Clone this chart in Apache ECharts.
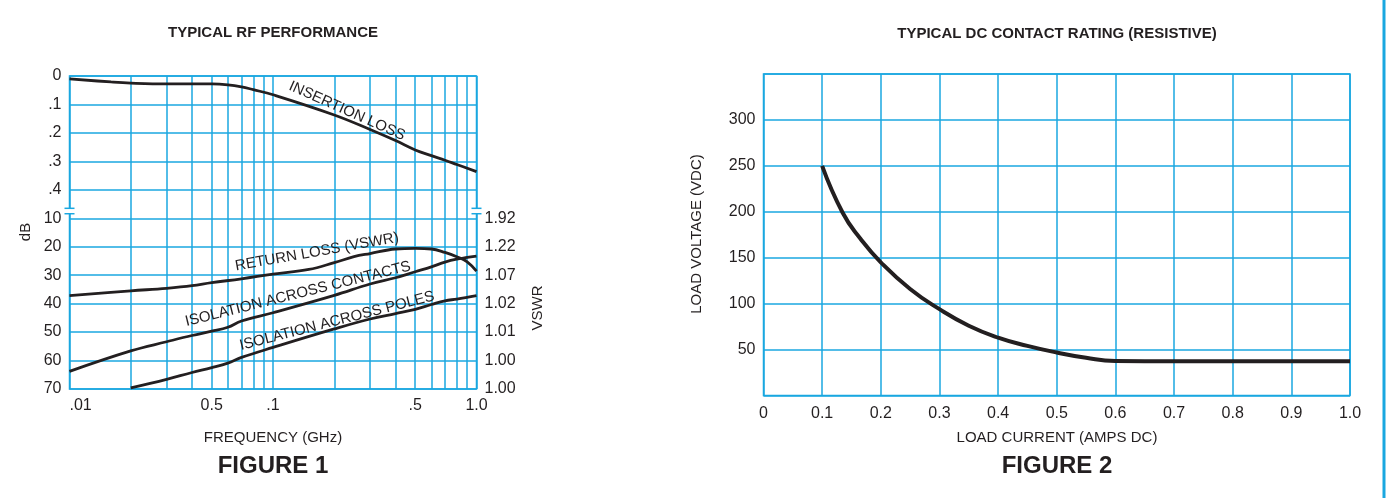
<!DOCTYPE html>
<html><head><meta charset="utf-8">
<script src="https://cdn.jsdelivr.net/npm/echarts@6/dist/echarts.min.js"></script>
<style>html,body{margin:0;padding:0;background:#fff}#c{width:1388px;height:498px}</style>
</head><body><div id="c"></div>
<script>
// ---------- FIGURE 1 : TYPICAL RF PERFORMANCE ----------
const freqGridLines = [0.01,0.02,0.03,0.04,0.05,0.06,0.07,0.08,0.09,0.1,0.2,0.3,0.4,0.5,0.6,0.7,0.8,0.9,1.0];
const freqTickValues = [0.01, 0.05, 0.1, 0.5, 1.0];
const freqTickLabels = ['.01', '0.5', '.1', '.5', '1.0'];
const ilTickValues = [0, 0.1, 0.2, 0.3, 0.4];
const ilTickLabels = ['0', '.1', '.2', '.3', '.4'];
const dbTickValues = [10, 20, 30, 40, 50, 60, 70];
const dbTickLabels = ['10', '20', '30', '40', '50', '60', '70'];
const vswrTickLabels = ['1.92', '1.22', '1.07', '1.02', '1.01', '1.00', '1.00'];

const ilFreq = [0.01, 0.016, 0.02, 0.03, 0.05, 0.06, 0.07, 0.08, 0.1, 0.2, 0.3, 0.4, 0.5, 0.6, 0.7, 0.8, 1.0];
const insertionLoss = [0.010, 0.021, 0.025, 0.028, 0.028, 0.031, 0.038, 0.048, 0.066, 0.137, 0.188, 0.227, 0.260, 0.280, 0.296, 0.311, 0.336];

const rlFreq = [0.01, 0.02, 0.03, 0.04, 0.05, 0.07, 0.1, 0.15, 0.2, 0.25, 0.3, 0.4, 0.5, 0.6, 0.7, 0.8, 0.9, 1.0];
const returnLoss = [37.2, 35.5, 34.6, 33.7, 32.6, 31.3, 29.6, 28.0, 25.6, 23.5, 22.4, 20.8, 20.6, 20.8, 22.0, 23.5, 25.3, 28.6];

const icFreq = [0.01, 0.02, 0.03, 0.04, 0.05, 0.06, 0.07, 0.1, 0.2, 0.3, 0.4, 0.5, 0.6, 0.7, 0.8, 1.0];
const isoContacts = [63.8, 56.6, 53.4, 51.2, 49.7, 48.3, 46.1, 43.2, 37.1, 33.1, 30.9, 28.8, 27.1, 25.4, 24.4, 23.3];

const ipFreq = [0.02, 0.03, 0.04, 0.05, 0.06, 0.07, 0.1, 0.2, 0.3, 0.4, 0.5, 0.6, 0.7, 0.8, 1.0];
const isoPoles = [69.6, 66.6, 64.2, 62.5, 60.9, 58.9, 55.4, 48.9, 45.4, 43.5, 42.0, 40.3, 39.0, 38.4, 37.2];

// ---------- FIGURE 2 : TYPICAL DC CONTACT RATING ----------
const currentTickLabels = ['0', '0.1', '0.2', '0.3', '0.4', '0.5', '0.6', '0.7', '0.8', '0.9', '1.0'];
const voltageTickValues = [50, 100, 150, 200, 250, 300];
const loadCurrent = [0.1, 0.135, 0.165, 0.2, 0.25, 0.3, 0.35, 0.4, 0.45, 0.5, 0.55, 0.6, 0.7, 1.0];
const loadVoltage = [250, 199, 171, 145, 116, 94, 76, 63, 54, 46.8, 41, 37.6, 37.2, 37.2];

const zip = (a, b) => a.map((v, i) => [v, b[i]]);
const BLUE = '#1aa7e0';
const INK = '#231f20';
const FONT = "'Liberation Sans', Arial, Helvetica, sans-serif";
const lookup = (vals, labels) => v => {
  const i = vals.findIndex(t => Math.abs(t - v) < 1e-9);
  return i >= 0 ? labels[i] : '';
};
const lab = { color: INK, fontSize: 16, fontFamily: FONT };

const chart = echarts.init(document.getElementById('c'), null, { renderer: 'canvas' });
chart.setOption({
  animation: false,
  backgroundColor: '#fff',
  grid: [
    { left: 69.5, right: 911.5, top: 76, bottom: 109, show: true, borderColor: BLUE, borderWidth: 1.5, backgroundColor: 'transparent' },
    { left: 763.5, right: 38, top: 74, bottom: 102.5, show: true, borderColor: BLUE, borderWidth: 1.5, backgroundColor: 'transparent' }
  ],
  xAxis: [
    {
      gridIndex: 0, type: 'log', logBase: 10, min: 0.01, max: 1,
      axisLine: { show: false },
      axisTick: { show: false, customValues: freqGridLines },
      splitLine: { show: true, lineStyle: { color: BLUE, width: 1.5 } },
      minorSplitLine: { show: false },
      axisLabel: { ...lab, margin: 9, customValues: freqTickValues, formatter: lookup(freqTickValues, freqTickLabels), alignMinLabel: 'left' }
    },
    {
      gridIndex: 1, type: 'value', min: 0, max: 1, interval: 0.1,
      axisLine: { show: false }, axisTick: { show: false },
      splitLine: { show: true, lineStyle: { color: BLUE, width: 1.5 } },
      axisLabel: { ...lab, margin: 10, formatter: v => currentTickLabels[Math.round(v * 10)] }
    }
  ],
  yAxis: [
    {
      gridIndex: 0, type: 'value', inverse: true, min: 0, max: 1.1, interval: 0.1, position: 'left',
      axisLine: { show: false }, axisTick: { show: false }, splitLine: { show: false },
      axisLabel: { ...lab, margin: 8, customValues: ilTickValues, formatter: lookup(ilTickValues, ilTickLabels) }
    },
    {
      gridIndex: 0, type: 'value', inverse: true, min: -40, max: 70, interval: 10, position: 'left',
      axisLine: { show: false }, axisTick: { show: false },
      splitLine: { show: true, lineStyle: { color: BLUE, width: 1.5 } },
      axisLabel: { ...lab, margin: 8, customValues: dbTickValues, formatter: lookup(dbTickValues, dbTickLabels) }
    },
    {
      gridIndex: 0, type: 'value', inverse: true, min: -40, max: 70, interval: 10, position: 'right',
      axisLine: { show: false }, axisTick: { show: false }, splitLine: { show: false },
      axisLabel: { ...lab, margin: 8, customValues: dbTickValues, formatter: lookup(dbTickValues, vswrTickLabels) }
    },
    {
      gridIndex: 1, type: 'value', min: 0, max: 350, interval: 50,
      axisLine: { show: false }, axisTick: { show: false },
      splitLine: { show: true, lineStyle: { color: BLUE, width: 1.5 } },
      axisLabel: { ...lab, margin: 8, customValues: voltageTickValues }
    }
  ],
  series: [
    { type: 'line', name: 'INSERTION LOSS', xAxisIndex: 0, yAxisIndex: 0, data: zip(ilFreq, insertionLoss), smooth: 0.4, showSymbol: false, lineStyle: { color: INK, width: 2.8 } },
    { type: 'line', name: 'RETURN LOSS (VSWR)', xAxisIndex: 0, yAxisIndex: 1, data: zip(rlFreq, returnLoss), smooth: 0.4, showSymbol: false, lineStyle: { color: INK, width: 2.8 } },
    { type: 'line', name: 'ISOLATION ACROSS CONTACTS', xAxisIndex: 0, yAxisIndex: 1, data: zip(icFreq, isoContacts), smooth: 0.4, showSymbol: false, lineStyle: { color: INK, width: 2.8 } },
    { type: 'line', name: 'ISOLATION ACROSS POLES', xAxisIndex: 0, yAxisIndex: 1, data: zip(ipFreq, isoPoles), smooth: 0.4, showSymbol: false, lineStyle: { color: INK, width: 2.8 } },
    { type: 'line', name: 'DC RATING', xAxisIndex: 1, yAxisIndex: 3, data: zip(loadCurrent, loadVoltage), smooth: 0.5, showSymbol: false, lineStyle: { color: INK, width: 4 } }
  ]
});

// axis-break marks and texts
const xL = chart.convertToPixel({ xAxisIndex: 0 }, 0.01);
const xR = chart.convertToPixel({ xAxisIndex: 0 }, 1.0);
const yb1 = chart.convertToPixel({ yAxisIndex: 1 }, 6.5);
const yb2 = chart.convertToPixel({ yAxisIndex: 1 }, 8.4);
function breakMark(x) {
  return [
    { type: 'rect', z: 100, shape: { x: x - 3, y: yb1, width: 6, height: yb2 - yb1 }, style: { fill: '#fff' } },
    { type: 'line', z: 101, shape: { x1: x - 5, y1: yb1, x2: x + 5, y2: yb1 }, style: { stroke: BLUE, lineWidth: 1.5 } },
    { type: 'line', z: 101, shape: { x1: x - 5, y1: yb2, x2: x + 5, y2: yb2 }, style: { stroke: BLUE, lineWidth: 1.5 } }
  ];
}
const T = (text, x, y, size, opts = {}) => ({
  type: 'text', z: 50, x, y, rotation: (opts.rot || 0) * Math.PI / 180,
  style: { text, fill: INK, fontFamily: FONT, fontSize: size, fontWeight: opts.bold ? 'bold' : 'normal', align: 'center', verticalAlign: 'middle' }
});
chart.setOption({
  graphic: [
    ...breakMark(xL), ...breakMark(xR),
    T('TYPICAL RF PERFORMANCE', 273, 33, 15, { bold: true }),
    T('TYPICAL DC CONTACT RATING (RESISTIVE)', 1057, 34, 15, { bold: true }),
    T('FREQUENCY (GHz)', 273, 438, 15),
    T('FIGURE 1', 273, 466, 24, { bold: true }),
    T('LOAD CURRENT (AMPS DC)', 1057, 438, 15),
    T('FIGURE 2', 1057, 466, 24, { bold: true }),
    T('LOAD VOLTAGE (VDC)', 697, 234, 15, { rot: 90 }),
    T('dB', 26, 232, 15, { rot: 90 }),
    T('VSWR', 538, 308, 15, { rot: 90 }),
    T('INSERTION LOSS', 347, 111, 15, { rot: -24 }),
    T('RETURN LOSS (VSWR)', 317, 252, 15, { rot: 10 }),
    T('ISOLATION ACROSS CONTACTS', 298, 294, 15, { rot: 14 }),
    T('ISOLATION ACROSS POLES', 337, 321, 15, { rot: 14.4 }),
    { type: 'rect', z: 50, shape: { x: 1382.5, y: 0, width: 3, height: 498 }, style: { fill: BLUE } }
  ]
});
</script></body></html>
